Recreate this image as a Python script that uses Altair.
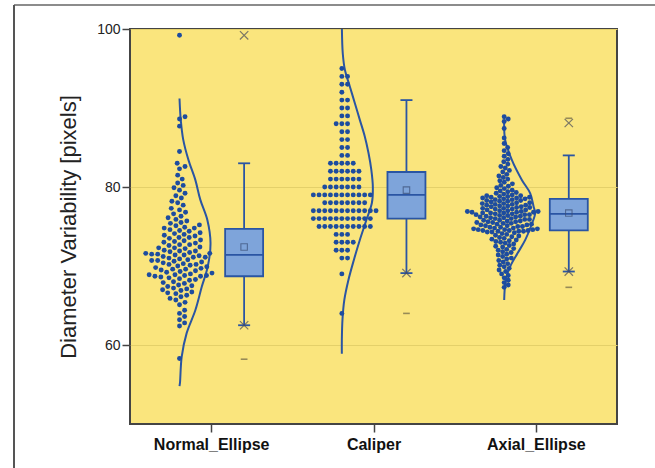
import altair as alt
import numpy as np
import pandas as pd

# ---------------- data ----------------
groups = ["Normal_Ellipse", "Caliper", "Axial_Ellipse"]

normal_vals = [
    99.2, 88.9, 88.6, 87.7, 84.5, 83.0, 82.6, 82.3, 81.5, 81.0,
    80.5, 80.2, 79.9, 79.6, 79.2, 78.9, 78.6, 78.2, 78.0, 77.7,
    77.3, 77.1, 76.8, 76.6, 76.3, 76.1, 75.9, 75.7, 75.5, 75.4,
    75.2, 75.1, 74.9, 74.8, 74.8,
    74.6, 74.5, 74.4, 74.2, 74.1, 74.0, 73.9, 73.8, 73.6, 73.6,
    73.5, 73.3, 73.2, 73.1, 73.0, 72.9, 72.7, 72.7, 72.6, 72.4,
    72.3, 72.3, 72.2, 72.0, 71.9, 71.9, 71.8, 71.7, 71.6, 71.6,
    71.5, 71.5, 71.4, 71.4, 71.3,
    71.2, 71.1, 71.1, 71.0, 70.9, 70.8, 70.7, 70.7, 70.6, 70.5,
    70.4, 70.3, 70.2, 70.2, 70.1, 70.0, 69.9, 69.8, 69.7, 69.6,
    69.6, 69.5, 69.4, 69.3, 69.2, 69.1, 69.0, 68.9, 68.9, 68.8,
    68.8, 68.7, 68.7, 68.6, 68.5,
    68.4, 68.3, 68.2, 68.0, 67.9, 67.8, 67.6, 67.5, 67.4, 67.2,
    67.1, 67.0, 66.9, 66.7, 66.6, 66.5, 66.3, 66.1, 65.9, 65.7,
    65.4, 65.1, 64.4, 64.0, 63.6, 63.2, 62.8, 62.4, 58.3,
]

caliper_levels = [95, 94, 93, 92, 91, 90, 89, 88, 87, 86, 85, 84, 83, 82,
                  81, 80, 79, 78, 77, 76, 75, 74, 73, 72, 71, 69, 64]
caliper_counts = [1, 2, 2, 1, 2, 2, 2, 3, 2, 2, 2, 2, 5, 6,
                  6, 7, 11, 8, 12, 11, 10, 3, 4, 3, 2, 1, 1]

axial_vals = [
    88.9, 88.6, 88.3, 87.4, 86.2, 85.5, 85.0, 84.6, 84.2, 83.9,
    83.5, 83.2, 82.9, 82.6, 82.4, 82.1, 81.9, 81.6, 81.4, 81.2,
    81.0, 80.8, 80.6, 80.4, 80.2, 80.1, 79.9, 79.8, 79.6, 79.5,
    79.4, 79.3, 79.2, 79.1, 79.0, 78.9, 78.9, 78.8, 78.8, 78.7,
    78.7, 78.6, 78.6, 78.5, 78.5,
    78.4, 78.4, 78.3, 78.3, 78.2, 78.2, 78.1, 78.0, 78.0, 77.9,
    77.9, 77.8, 77.8, 77.7, 77.7, 77.6, 77.6, 77.5, 77.5, 77.4,
    77.4, 77.3, 77.3, 77.2, 77.2, 77.1, 77.1, 77.0, 77.0, 76.9,
    76.9, 76.9, 76.8, 76.8, 76.8, 76.7, 76.7, 76.7, 76.6, 76.6,
    76.5, 76.5, 76.5, 76.4, 76.4,
    76.3, 76.3, 76.2, 76.2, 76.1, 76.1, 76.0, 76.0, 75.9, 75.9,
    75.8, 75.8, 75.7, 75.7, 75.6, 75.6, 75.5, 75.5, 75.4, 75.4,
    75.3, 75.3, 75.2, 75.2, 75.1, 75.1, 75.0, 75.0, 74.9, 74.9,
    74.8, 74.8, 74.7, 74.7, 74.6, 74.6, 74.6, 74.5, 74.5, 74.5,
    74.4, 74.4, 74.4, 74.3, 74.3,
    74.2, 74.1, 74.0, 73.9, 73.8, 73.7, 73.6, 73.5, 73.4, 73.3,
    73.2, 73.1, 73.0, 72.9, 72.8, 72.6, 72.5, 72.4, 72.2, 72.1,
    72.0, 71.8, 71.7, 71.5, 71.4, 71.2, 71.0, 70.9, 70.7, 70.5,
    70.3, 70.1, 69.9, 69.7, 69.5, 69.3, 69.0, 68.8, 68.5, 68.2,
    67.9, 67.6, 67.3,
]

# half-violin curves: value and relative density (1 = widest point)
normal_curve_y = [91.2, 88.5, 86.0, 83.4, 80.9, 78.4, 75.8, 72.9, 69.9, 67.4, 64.4, 61.5, 58.5, 55.2, 54.8]
normal_curve_d = [0.0, 0.04, 0.12, 0.29, 0.51, 0.67, 0.90, 1.0, 0.91, 0.72, 0.51, 0.23, 0.07, 0.015, 0.0]
caliper_curve_y = [100.5, 96.9, 94.8, 92.7, 90.6, 88.5, 86.4, 84.3, 82.2, 80.0, 78.0, 75.8, 73.3, 70.8, 68.2, 65.7, 63.2, 60.6, 58.9]
caliper_curve_d = [0.0, 0.03, 0.10, 0.26, 0.42, 0.58, 0.74, 0.86, 0.95, 1.0, 0.97, 0.79, 0.58, 0.39, 0.21, 0.08, 0.02, 0.0, 0.0]
axial_curve_y = [88.5, 86.0, 83.4, 80.9, 79.2, 77.5, 76.7, 75.0, 73.3, 71.6, 69.9, 68.2, 65.7]
axial_curve_d = [0.0, 0.03, 0.25, 0.57, 0.84, 0.95, 1.0, 0.86, 0.68, 0.43, 0.19, 0.05, 0.0]

# box statistics
box_q1 = [68.7, 76.0, 74.5]
box_median = [71.4, 79.0, 76.6]
box_q3 = [74.7, 81.9, 78.5]
box_mean = [72.4, 79.6, 76.7]
whisker_low = [62.5, 69.1, 69.3]
whisker_high = [83.0, 91.0, 84.0]
pct_group = ["Normal_Ellipse", "Normal_Ellipse", "Caliper", "Axial_Ellipse", "Axial_Ellipse"]
pct_value = [99.2, 62.5, 69.1, 88.1, 69.3]
ext_group = ["Normal_Ellipse", "Caliper", "Axial_Ellipse", "Axial_Ellipse"]
ext_value = [58.2, 64.0, 88.7, 67.3]

# ---------------- layout ----------------
W, H = 487, 395
Y_MIN, Y_MAX = 50, 100
PX_X = W / 3.0
PX_Y = H / (Y_MAX - Y_MIN)
CURVE_OFF = -0.195
BOX_OFF = 0.203
BOX_HALF = 0.117
CAP_HALF = 0.037
CURVE_W = 31.0 / PX_X

BLUE = "#1d4c9f"
LINE = "#2a55a3"
BOX_FILL = "#7ea4da"
FONT = "Liberation Sans"


def swarm(vals, d):
    ys = np.asarray(vals, dtype=float) * PX_Y
    order = np.argsort(ys, kind="stable")
    px_l, py_l = [], []
    out = np.zeros(len(ys))
    for i in order:
        y = ys[i]
        nb = [(px, py) for px, py in zip(px_l, py_l) if abs(py - y) < d]
        cands = [0.0]
        for px, py in nb:
            dx = np.sqrt(max(d * d - (py - y) ** 2, 0.0))
            cands += [px + dx, px - dx]
        cands.sort(key=abs)
        for c in cands:
            if all((c - px) ** 2 + (y - py) ** 2 >= d * d - 1e-6 for px, py in nb):
                out[i] = c
                break
        px_l.append(out[i])
        py_l.append(y)
    return out


caliper_vals = []
for lv, cnt in zip(caliper_levels, caliper_counts):
    caliper_vals += [lv] * cnt

dot_rows = []
for gi, (vals, d) in enumerate([(normal_vals, 6.0), (caliper_vals, 5.7), (axial_vals, 4.7)]):
    offs = swarm(vals, d)
    for v, o in zip(vals, offs):
        dot_rows.append({"group": groups[gi], "value": v, "x": gi + 0.5 + CURVE_OFF + o / PX_X})
dots = pd.DataFrame(dot_rows)

curve_rows = []
for gi, (cy, cd) in enumerate([(normal_curve_y, normal_curve_d),
                               (caliper_curve_y, caliper_curve_d),
                               (axial_curve_y, axial_curve_d)]):
    for y, dd in zip(cy, cd):
        curve_rows.append({"group": groups[gi], "value": y, "x": gi + 0.5 + CURVE_OFF + dd * CURVE_W})
curves = pd.DataFrame(curve_rows)

bx = pd.DataFrame({
    "group": groups,
    "xc": [i + 0.5 + BOX_OFF for i in range(3)],
    "q1": box_q1, "med": box_median, "q3": box_q3, "mean": box_mean,
    "wlo": whisker_low, "whi": whisker_high,
})
bx["xl"] = bx["xc"] - BOX_HALF
bx["xr"] = bx["xc"] + BOX_HALF
bx["cl"] = bx["xc"] - CAP_HALF
bx["cr"] = bx["xc"] + CAP_HALF

pct = pd.DataFrame({"group": pct_group, "value": pct_value})
pct["x"] = [groups.index(g) + 0.5 + BOX_OFF for g in pct_group]
ext = pd.DataFrame({"group": ext_group, "value": ext_value})
ext["x"] = [groups.index(g) + 0.5 + BOX_OFF for g in ext_group]

# ---------------- encodings ----------------
x_scale = alt.Scale(domain=[0, 3], nice=False, zero=False)
y_scale = alt.Scale(domain=[Y_MIN, Y_MAX], nice=False, zero=False)
label_expr = "[" + ",".join("'%s'" % g for g in groups) + "][floor(datum.value)]"
x_axis = alt.Axis(values=[0.5, 1.5, 2.5], labelExpr=label_expr, title=None, grid=False,
                  domain=False, tickSize=8, tickColor="#444", tickWidth=1.5,
                  labelFont=FONT, labelFontSize=16, labelFontWeight="bold",
                  labelColor="#111", labelPadding=4)
y_axis = alt.Axis(values=[60, 80, 100], title="Diameter Variability [pixels]", grid=True,
                  gridColor="#e4d06a", gridWidth=1, domain=False, tickSize=8,
                  tickColor="#444", tickWidth=1.5, labelFont=FONT, labelFontSize=14,
                  labelColor="#222", labelPadding=2, titleFont=FONT, titleFontSize=22,
                  titleFontWeight="normal", titleColor="#222", titlePadding=16)


def X(f):
    return alt.X(f + ":Q", scale=x_scale, axis=x_axis)


def Y(f):
    return alt.Y(f + ":Q", scale=y_scale, axis=y_axis)


curve_layer = alt.Chart(curves).mark_line(
    color=LINE, strokeWidth=2, interpolate="catmull-rom", clip=True
).encode(x=X("x"), y=Y("value"), detail="group:N", order=alt.Order("value:Q"))

dot_layer = alt.Chart(dots).mark_circle(size=24, color=BLUE, opacity=1).encode(
    x=X("x"), y=Y("value"))

whisk_hi = alt.Chart(bx).mark_rule(color=LINE, strokeWidth=1.8).encode(
    x=X("xc"), y=Y("q3"), y2="whi")
whisk_lo = alt.Chart(bx).mark_rule(color=LINE, strokeWidth=1.8).encode(
    x=X("xc"), y=Y("wlo"), y2="q1")
cap_hi = alt.Chart(bx).mark_rule(color=LINE, strokeWidth=1.8).encode(
    x=X("cl"), x2="cr", y=Y("whi"))
cap_lo = alt.Chart(bx).mark_rule(color=LINE, strokeWidth=1.8).encode(
    x=X("cl"), x2="cr", y=Y("wlo"))
box = alt.Chart(bx).mark_rect(fill=BOX_FILL, stroke=LINE, strokeWidth=1.8).encode(
    x=X("xl"), x2="xr", y=Y("q1"), y2="q3")
median = alt.Chart(bx).mark_rule(color=LINE, strokeWidth=1.8).encode(
    x=X("xl"), x2="xr", y=Y("med"))
mean_pt = alt.Chart(bx).mark_point(shape="square", size=42, filled=False,
                                   color="#3b4f78", strokeWidth=1.1).encode(
    x=X("xc"), y=Y("mean"))
pct_pt = alt.Chart(pct).mark_point(shape="M-1,-1L1,1M-1,1L1,-1", size=70, filled=False,
                                   color="#474a5c", strokeWidth=1.2).encode(
    x=X("x"), y=Y("value"))
ext_pt = alt.Chart(ext).mark_point(shape="M-1,0L1,0", size=45, filled=False,
                                   color="#6e6646", strokeWidth=1.6).encode(
    x=X("x"), y=Y("value"))

frame_df = pd.DataFrame({"k": [0]})
frame_top = alt.Chart(frame_df).mark_rule(color="#8c8c8c", strokeWidth=2).encode(
    x=alt.value(-116), x2=alt.value(530), y=alt.value(-24))
frame_left = alt.Chart(frame_df).mark_rule(color="#555555", strokeWidth=2).encode(
    x=alt.value(-116), y=alt.value(-24), y2=alt.value(445))

chart = alt.layer(
    curve_layer, dot_layer, whisk_hi, whisk_lo, cap_hi, cap_lo, box, median,
    mean_pt, pct_pt, ext_pt, frame_top, frame_left
).properties(
    width=W, height=H,
    autosize=alt.AutoSizeParams(type="none"),
    padding={"left": 130, "top": 29, "right": 38, "bottom": 44},
    background="white",
).configure_view(
    fill="#fae57d", stroke="#444444", strokeWidth=2
)

chart.save("out.html", embed_options={"renderer": "svg", "actions": False})
